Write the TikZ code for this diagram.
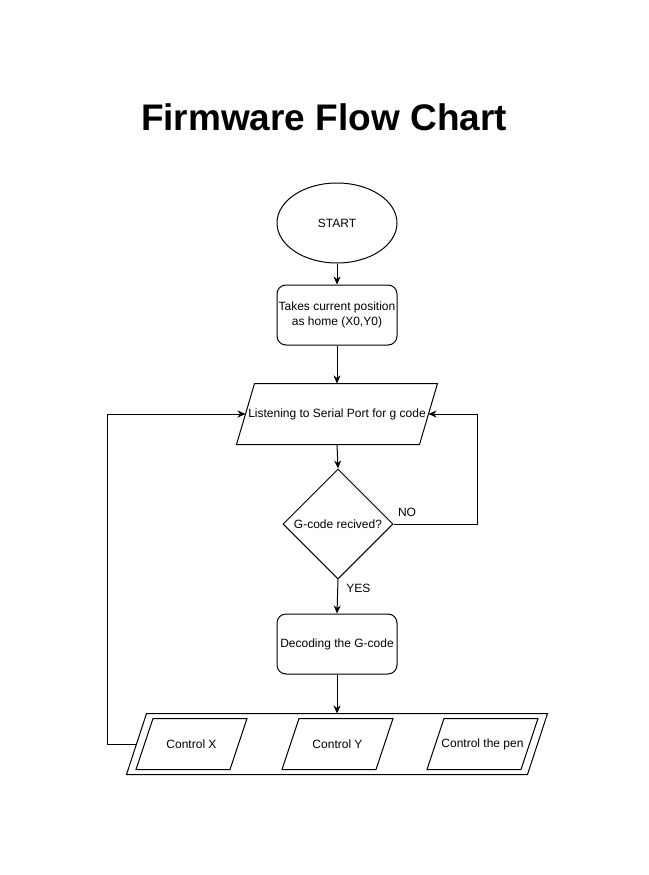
\documentclass[tikz,border=0pt]{standalone}
\usepackage{fontspec}
\setmainfont{Liberation Sans}
\usetikzlibrary{shapes.geometric,arrows.meta,calc}
\begin{document}
\begin{tikzpicture}[x=1pt,y=-1pt,line width=1pt,
  every node/.style={font=\fontsize{12}{15}\selectfont,inner sep=0pt},
  arr/.style={-{Stealth[length=8pt,width=7pt,inset=2.5pt]}},
  roundbox/.style={draw,rectangle,rounded corners=9pt,minimum width=120pt,minimum height=60pt,align=center},
  parabox/.style={rectangle,align=center},
  lbl/.style={font=\fontsize{12}{14}\selectfont}
]
\useasboundingbox (0,0) rectangle (648,875);

\node[font=\fontsize{37}{44}\selectfont\bfseries] (title) at (324,117) {Firmware Flow Chart};

\node[draw,ellipse,minimum width=120pt,minimum height=80pt] (start) at (337,223) {START};
\node[roundbox] (home) at (337,315) {Takes current position\\as home (X0,Y0)};
\node[parabox,minimum width=200pt,minimum height=60pt] (listen) at (337,414) {Listening to Serial Port for g code};
\draw ([xshift=18pt]listen.north west) -- (listen.north east) -- ([xshift=-18pt]listen.south east) -- (listen.south west) -- cycle;
\node[draw,diamond,minimum width=110pt,minimum height=110pt] (dec) at (338,524) {G-code recived?};
\node[roundbox] (decode) at (337,644) {Decoding the G-code};

\node[parabox,minimum width=420pt,minimum height=60pt] (out) at (337,744) {};
\draw ([xshift=20pt]out.north west) -- (out.north east) -- ([xshift=-20pt]out.south east) -- (out.south west) -- cycle;

\node[parabox,minimum width=110pt,minimum height=50pt] (cx) at (191.5,744) {Control X};
\node[parabox,minimum width=110pt,minimum height=50pt] (cy) at (337.5,744) {Control Y};
\node[parabox,minimum width=110pt,minimum height=50pt] (cp) at (482.5,744) {Control the pen};
\foreach \n in {cx,cy,cp}{
  \draw ([xshift=17pt]\n.north west) -- (\n.north east) -- ([xshift=-17pt]\n.south east) -- (\n.south west) -- cycle;
}

\draw[arr] (start.south) -- (home.north);
\draw[arr] (home.south) -- (listen.north);
\draw[arr] (listen.south) -- (dec.north);
\draw[arr] (dec.south) -- node[lbl,right=8pt,pos=0.25] (yes) {YES} (decode.north);
\coordinate (nocorner) at (477,414);
\draw[arr] (dec.east) -| (nocorner) -- ([xshift=-9pt]listen.east);
\node[lbl] (no) at (407,512) {NO};
\draw[arr] (decode.south) -- (out.north);
\coordinate (loopbot) at (107,744);
\coordinate (looptop) at (107,414);
\draw[arr] ([xshift=10pt]out.west) -- (loopbot) -- (looptop) -- ([xshift=9pt]listen.west);
\end{tikzpicture}
\end{document}
